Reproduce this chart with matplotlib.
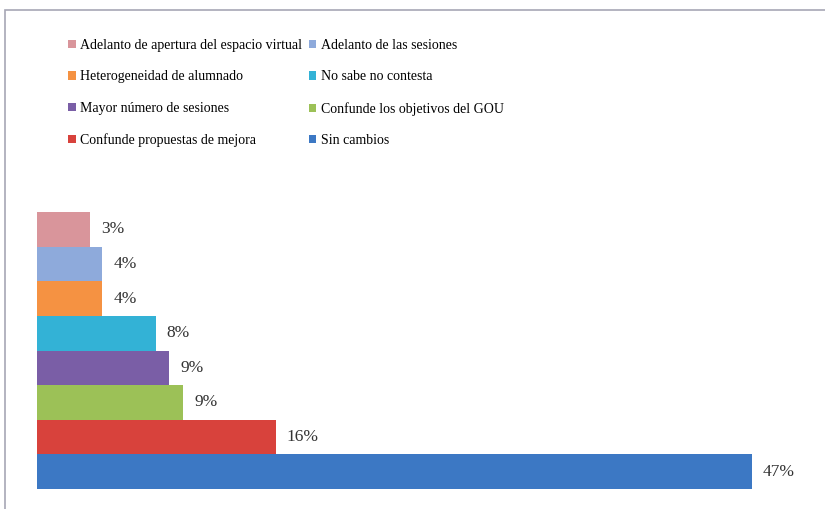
import matplotlib.pyplot as plt
from matplotlib.patches import Rectangle, Patch

# data, top bar first
categories = ['Adelanto de apertura del espacio virtual', 'Adelanto de las sesiones',
              'Heterogeneidad de alumnado', 'No sabe no contesta',
              'Mayor número de sesiones', 'Confunde los objetivos del GOU',
              'Confunde propuestas de mejora', 'Sin cambios']
values = [3.5, 4.3, 4.3, 7.8, 8.7, 9.6, 15.7, 47.0]
value_labels = ['3%', '4%', '4%', '8%', '9%', '9%', '16%', '47%']
colors = ['#d9959b', '#8eaadb', '#f59242', '#33b2d6',
          '#7a5ea6', '#9cc157', '#d8423c', '#3c78c4']

plt.rcParams['font.family'] = ['Liberation Serif', 'DejaVu Serif']

fig = plt.figure(figsize=(8.25, 5.09), dpi=100)
W, H = 825, 509

# outer chart frame
fig.patches.append(Rectangle((5 / W, -0.1), 1.0, (H - 10) / H + 0.1,
                             transform=fig.transFigure, fill=False,
                             edgecolor='#a7a7b5', linewidth=1.2))

left, right = 37, 37 + 715 * 50 / 47
ax = fig.add_axes([left / W, 20 / H, (right - left) / W, 277 / H])

ypos = list(range(len(values)))[::-1]
ax.barh(ypos, values, height=1.0, color=colors, edgecolor='none')
for y, v, lab in zip(ypos, values, value_labels):
    ax.annotate(lab, (v, y), xytext=(8, 0), textcoords='offset points',
                va='center', ha='left', fontsize=12.5, color='#333333')

ax.set_xlim(0, 50)
ax.set_ylim(-0.5, len(values) - 0.5)
ax.axis('off')

# legend: reading order left to right, rows top to bottom
order = [0, 2, 4, 6, 1, 3, 5, 7]
handles = [Patch(facecolor=colors[i]) for i in order]
labels = [categories[i] for i in order]
fig.legend(handles, labels, ncol=2, loc='upper left',
           bbox_to_anchor=(68 / W, 1 - 39 / H), frameon=False,
           fontsize=10, handlelength=0.55, handleheight=0.55,
           handletextpad=0.3, columnspacing=0.5, labelspacing=1.33,
           borderpad=0, borderaxespad=0)

fig.savefig('out.png', dpi=100)
